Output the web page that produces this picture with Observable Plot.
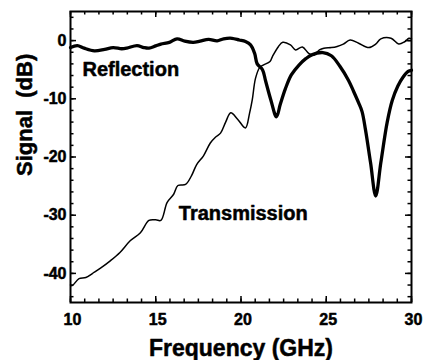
<!DOCTYPE html>
<html>
<head>
<meta charset="utf-8">
<script src="https://cdn.jsdelivr.net/npm/d3@7"></script>
<script src="https://cdn.jsdelivr.net/npm/@observablehq/plot@0.6"></script>
<style>
  html, body { margin: 0; padding: 0; background: #fff; }
  #chart svg { display: block; }
</style>
</head>
<body>
<div id="chart"></div>
<script>
// Reflection (thick trace): frequency in GHz, signal in dB
const reflFreq = [10.0, 10.4, 10.8, 11.4, 12.0, 12.5, 13.0, 13.3, 13.9, 14.3, 14.6, 15.0, 15.3, 15.8, 16.25, 16.7, 17.2, 17.6, 18.1, 18.6, 18.98, 19.47, 19.9, 20.26, 20.56, 20.8, 20.95, 21.26, 21.44, 21.75, 22.08, 22.3, 22.6, 22.95, 23.4, 23.8, 24.15, 24.8, 25.3, 25.8, 26.3, 26.6, 26.9, 27.1, 27.3, 27.6, 27.9, 28.2, 28.57, 28.87, 29.2, 29.5, 29.8, 30.0];
const reflDb   = [-1.2, -0.85, -1.3, -1.75, -1.5, -1.2, -1.4, -1.3, -0.85, -1.2, -1.3, -0.9, -0.6, -0.3, 0.3, -0.1, -0.3, -0.1, 0.2, -0.05, 0.3, 0.4, 0.1, -0.17, -0.74, -2.2, -4.0, -5.0, -6.9, -10.2, -13.1, -11.0, -8.3, -5.9, -4.2, -3.1, -2.45, -2.05, -2.6, -4.4, -6.8, -8.7, -10.7, -12.2, -15.3, -21.0, -26.7, -21.0, -14.1, -10.3, -7.8, -6.3, -5.3, -5.1];

// Transmission (thin trace): frequency in GHz, signal in dB
const transFreq = [10.0, 10.1, 10.5, 10.9, 11.4, 11.76, 12.35, 12.9, 13.5, 14.1, 14.6, 15.0, 15.3, 15.67, 16.05, 16.3, 16.75, 17.1, 17.4, 17.8, 18.2, 18.5, 18.8, 19.1, 19.4, 19.8, 20.26, 20.5, 20.66, 20.85, 21.1, 21.3, 21.7, 21.85, 22.2, 22.45, 22.9, 23.2, 23.6, 23.97, 24.27, 24.6, 24.86, 25.3, 25.64, 26.0, 26.4, 26.9, 27.5, 27.9, 28.2, 28.8, 29.25, 29.6, 29.85, 30.0];
const transDb   = [-42.0, -42.1, -40.9, -40.7, -39.8, -39.1, -37.8, -36.4, -34.4, -33.0, -30.9, -30.8, -30.9, -27.8, -26.4, -24.9, -24.7, -23.2, -21.3, -19.8, -17.6, -16.6, -15.9, -14.0, -12.4, -13.5, -15.0, -12.5, -10.2, -6.5, -4.6, -4.2, -3.6, -2.7, -1.0, -0.3, -0.74, -1.6, -1.1, -2.2, -2.5, -1.6, -1.3, -1.2, -1.0, -0.6, 0.1, -0.45, -1.2, -0.6, 0.3, 0.4, -0.6, -0.2, 0.4, 0.3];

// Curve labels
const curveLabels = ["Reflection", "Transmission"];
const curveLabelFreq = [10.7, 16.35];
const curveLabelDb = [-5.0, -29.7];

// Axis ticks
const xMajorTicks = [10, 15, 20, 25, 30];
const yMajorTicks = [0, -10, -20, -30, -40];
const xMinorTicks = d3.range(0, 25).map(i => 10 + i * 5 / 6).filter(v => v <= 30.001);
const yMinorTicks = d3.range(-44, 5, 2);

const reflection = reflFreq.map((f, i) => ({f, db: reflDb[i]}));
const transmission = transFreq.map((f, i) => ({f, db: transDb[i]}));
const labelRows = curveLabels.map((t, i) => ({t, f: curveLabelFreq[i], db: curveLabelDb[i]}));

const font = "'Liberation Sans', Arial, Helvetica, sans-serif";

// frame geometry
const W = 424, H = 360;
const mL = 70, mR = 13, mT = 11, mB = 58;
const innerW = W - mL - mR, innerH = H - mT - mB;
const majorLen = 6, minorLen = 3.5;

// short inward ticks: a full-span tick inset down to its length
const ticksX = (values, len) => [
  Plot.tickX(values, {x: d => d, insetTop: innerH - len, stroke: "#000", strokeWidth: 1.5}),
  Plot.tickX(values, {x: d => d, insetBottom: innerH - len, stroke: "#000", strokeWidth: 1.5})
];
const ticksY = (values, len) => [
  Plot.tickY(values, {y: d => d, insetRight: innerW - len, stroke: "#000", strokeWidth: 1.5}),
  Plot.tickY(values, {y: d => d, insetLeft: innerW - len, stroke: "#000", strokeWidth: 1.5})
];

const textStroke = {stroke: "#000", strokeWidth: 0.5};

const chart = Plot.plot({
  width: W,
  height: H,
  marginLeft: mL,
  marginRight: mR,
  marginTop: mT,
  marginBottom: mB,
  style: {fontFamily: font, fontWeight: "bold", color: "#000", background: "#fff"},
  x: {domain: [10, 30]},
  y: {domain: [-45, 5]},
  marks: [
    ...ticksX(xMinorTicks, minorLen),
    ...ticksX(xMajorTicks, majorLen),
    ...ticksY(yMinorTicks, minorLen),
    ...ticksY(yMajorTicks, majorLen),
    // tick labels
    Plot.axisX(xMajorTicks, {anchor: "bottom", tickSize: 0, tickPadding: 11, fontSize: 16, fontWeight: "bold", dx: 2, label: null, tickFormat: d => String(d), textStroke: "#000", textStrokeWidth: 0.5}),
    Plot.axisY(yMajorTicks, {anchor: "left", tickSize: 0, tickPadding: 4, fontSize: 16, fontWeight: "bold", label: null, tickFormat: d => String(d), textStroke: "#000", textStrokeWidth: 0.5}),
    Plot.frame({stroke: "#000", strokeWidth: 2}),
    // traces
    Plot.line(transmission, {x: "f", y: "db", stroke: "#000", strokeWidth: 1.5, curve: "catmull-rom"}),
    Plot.line(reflection, {x: "f", y: "db", stroke: "#000", strokeWidth: 3.3, curve: "catmull-rom"}),
    // curve labels
    Plot.text(labelRows, {x: "f", y: "db", text: "t", textAnchor: "start", lineAnchor: "middle", fontSize: 20, fontWeight: "bold", fill: "#000", ...textStroke}),
    // axis titles
    Plot.text(["Frequency (GHz)"], {frameAnchor: "bottom", text: d => d, dy: 46, lineAnchor: "middle", fontSize: 23, fontWeight: "bold", fill: "#000", ...textStroke}),
    Plot.text(["Signal  (dB)"], {frameAnchor: "left", text: d => d, rotate: -90, dx: -46, dy: 19, lineAnchor: "middle", fontSize: 22, fontWeight: "bold", fill: "#000", ...textStroke})
  ]
});

document.getElementById("chart").appendChild(chart);
</script>
</body>
</html>
